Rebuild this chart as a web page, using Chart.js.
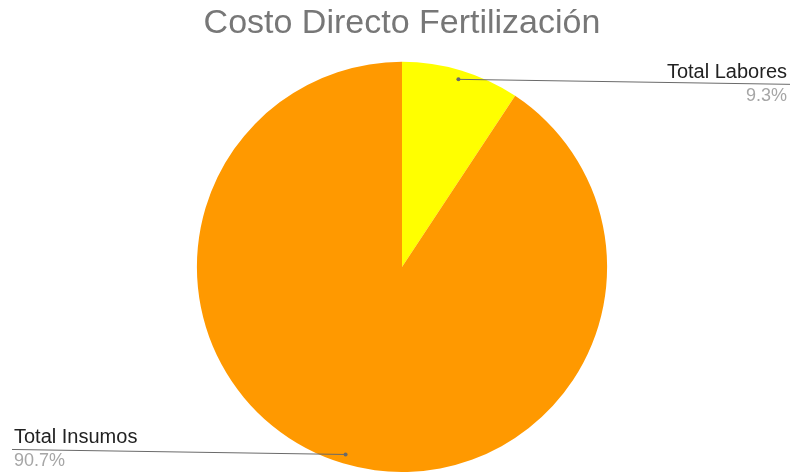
<!DOCTYPE html>
<html>
<head>
<meta charset="utf-8">
<script src="https://cdn.jsdelivr.net/npm/chart.js@4"></script>
<style>
  html, body { margin: 0; padding: 0; background: #fff; }
  #wrap { width: 794px; height: 472px; }
</style>
</head>
<body>
<div id="wrap"><canvas id="costoChart" width="794" height="472"></canvas></div>
<script>
// Datos del gráfico
const categorias = ['Total Labores', 'Total Insumos'];
const valores = [9.3, 90.7];
const colores = ['#ffff00', '#ff9900'];

// Etiquetas con línea guía (estilo Google Charts)
const leaderLabels = {
  id: 'leaderLabels',
  afterDatasetsDraw(chart) {
    const ctx = chart.ctx;
    const meta = chart.getDatasetMeta(0);
    const total = valores.reduce((a, b) => a + b, 0);
    meta.data.forEach((arc, i) => {
      const mid = (arc.startAngle + arc.endAngle) / 2;
      const r = arc.outerRadius * 0.955;
      const px = arc.x + Math.cos(mid) * r;
      const py = arc.y + Math.sin(mid) * r;
      const right = Math.cos(mid) > 0;
      const ex = right ? chart.width - 4 : 12;
      const ey = py + (right ? 5 : -5);
      ctx.save();
      ctx.strokeStyle = '#6a6a6a';
      ctx.lineWidth = 1;
      ctx.beginPath();
      ctx.moveTo(px, py);
      ctx.lineTo(ex, ey);
      ctx.stroke();
      ctx.fillStyle = '#6a6a6a';
      ctx.beginPath();
      ctx.arc(px, py, 2, 0, Math.PI * 2);
      ctx.fill();
      ctx.textAlign = right ? 'right' : 'left';
      const tx = right ? ex - 3 : ex + 2;
      ctx.font = '20px "Liberation Sans", Arial';
      ctx.fillStyle = '#222222';
      ctx.textBaseline = 'alphabetic';
      ctx.fillText(categorias[i], tx, ey - 6);
      ctx.font = '18px "Liberation Sans", Arial';
      ctx.fillStyle = '#a6a6a6';
      ctx.textBaseline = 'top';
      const pct = (valores[i] / total * 100).toFixed(1) + '%';
      ctx.fillText(pct, tx, ey + 3);
      ctx.restore();
    });
  }
};

const ctx = document.getElementById('costoChart').getContext('2d');
const costoChart = new Chart(ctx, {
  type: 'pie',
  data: {
    labels: categorias,
    datasets: [{
      data: valores,
      backgroundColor: colores,
      borderWidth: 0
    }]
  },
  options: {
    responsive: false,
    animation: false,
    layout: { padding: { left: 10, right: 0, top: 0, bottom: 0 } },
    plugins: {
      legend: { display: false },
      tooltip: { enabled: false },
      title: {
        display: true,
        text: 'Costo Directo Fertilización',
        color: '#777777',
        font: { family: '"Liberation Sans", Arial', size: 34, weight: 'normal' },
        padding: { top: 3, bottom: 18 }
      }
    }
  },
  plugins: [leaderLabels]
});
</script>
</body>
</html>
